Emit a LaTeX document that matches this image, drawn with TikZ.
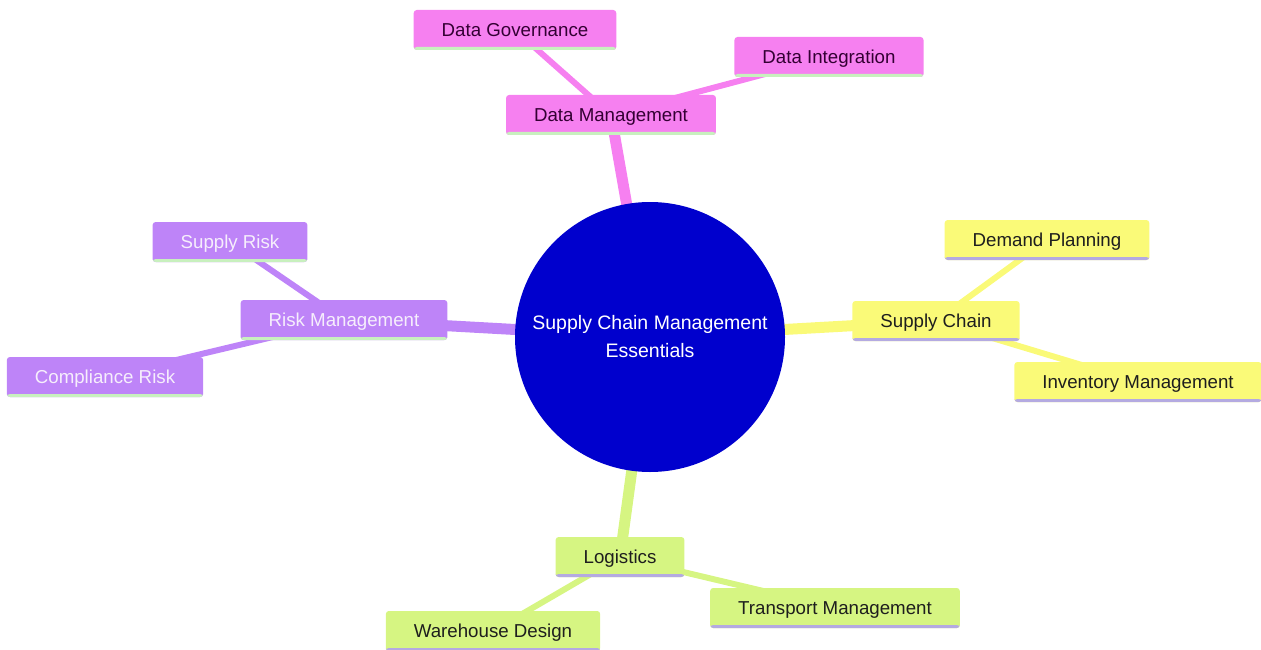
\documentclass[tikz,border=0pt]{standalone}
\usepackage{fontspec}
\setmainfont{Liberation Sans}
\usetikzlibrary{backgrounds}

\definecolor{rootblue}{RGB}{0,0,205}
\definecolor{dmpink}{RGB}{246,128,240}
\definecolor{scyellow}{RGB}{250,250,120}
\definecolor{rmpurple}{RGB}{190,132,248}
\definecolor{lggreen}{RGB}{214,245,130}
\definecolor{pinktext}{RGB}{51,0,51}
\definecolor{lighttext}{RGB}{246,238,252}
\definecolor{darktext}{RGB}{30,30,30}
\definecolor{mintline}{RGB}{200,240,190}
\definecolor{lavline}{RGB}{180,170,225}

\tikzset{
  mmnode/.style={rounded corners=3pt, minimum height=40pt, inner xsep=28pt, inner ysep=3pt,
    text height=17pt, text depth=4pt, font=\fontsize{18.7}{22}\selectfont},
  underline/.style={path picture={\fill[#1] ([yshift=3pt]path picture bounding box.south west)
    rectangle (path picture bounding box.south east);}},
  pinkbox/.style={mmnode, fill=dmpink, text=pinktext, underline=mintline},
  purplebox/.style={mmnode, fill=rmpurple, text=lighttext, underline=mintline},
  yellowbox/.style={mmnode, fill=scyellow, text=darktext, underline=lavline},
  greenbox/.style={mmnode, fill=lggreen, text=darktext, underline=lavline},
  branch/.style={line width=11pt},
  twig/.style={line width=6pt}
}

\begin{document}
\begin{tikzpicture}[x=1pt,y=-1pt]
  \useasboundingbox (0,0) rectangle (1261,650);

  % Place nodes
  \node [circle, fill=rootblue, minimum size=270pt, text=white, align=center,
    font=\fontsize{19.5}{28}\selectfont] (root) at (650,337) {Supply Chain Management\\Essentials};

  \node [pinkbox] (dm) at (611,115) {Data Management};
  \node [pinkbox] (dg) at (515,30) {Data Governance};
  \node [pinkbox] (di) at (829,57) {Data Integration};

  \node [yellowbox] (sc) at (936,321) {Supply Chain};
  \node [yellowbox] (dp) at (1047,240) {Demand Planning};
  \node [yellowbox] (im) at (1138,382) {Inventory Management};

  \node [purplebox] (rm) at (344,320) {Risk Management};
  \node [purplebox] (sr) at (230,242) {Supply Risk};
  \node [purplebox] (cr) at (105,377) {Compliance Risk};

  \node [greenbox] (lg) at (620,557) {Logistics};
  \node [greenbox] (wd) at (493,631) {Warehouse Design};
  \node [greenbox] (tm) at (835,608) {Transport Management};

  % Connectors behind the boxes
  \begin{pgfonlayer}{background}
    \draw [branch, dmpink] (root.center) -- (dm.center);
    \draw [twig, dmpink] (dm.center) -- (dg.center);
    \draw [twig, dmpink] (dm.center) -- (di.center);

    \draw [branch, scyellow] (root.center) -- (sc.center);
    \draw [twig, scyellow] (sc.center) -- (dp.center);
    \draw [twig, scyellow] (sc.center) -- (im.center);

    \draw [branch, rmpurple] (root.center) -- (rm.center);
    \draw [twig, rmpurple] (rm.center) -- (sr.center);
    \draw [twig, rmpurple] (rm.center) -- (cr.center);

    \draw [branch, lggreen] (root.center) -- (lg.center);
    \draw [twig, lggreen] (lg.center) -- (wd.center);
    \draw [twig, lggreen] (lg.center) -- (tm.center);
  \end{pgfonlayer}
\end{tikzpicture}
\end{document}
